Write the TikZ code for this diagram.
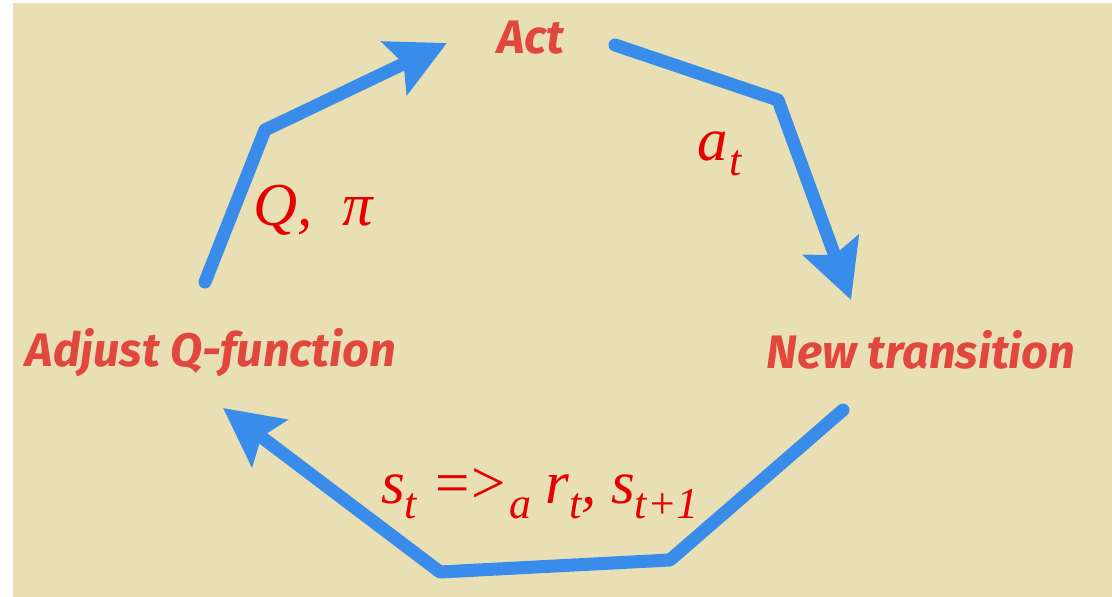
\documentclass[tikz,border=0pt]{standalone}
\usepackage{fontspec}
\usetikzlibrary{arrows.meta}
\newfontfamily\stagefont{Fira Sans}
\newfontfamily\symbfont{Liberation Serif}
\definecolor{paper}{HTML}{E8E0B4}
\definecolor{loopblue}{HTML}{3A8CEB}
\definecolor{stagered}{HTML}{E2473F}
\definecolor{symbred}{HTML}{E60000}
\newcommand{\lo}[1]{\raisebox{-0.55ex}{\fontsize{44}{44}\selectfont #1}}
\begin{document}
\begin{tikzpicture}[x=1pt,y=-1pt,line join=round,line cap=round,
	loop/.style={draw=loopblue,line width=13pt,-{Stealth[length=58pt,width=58pt,inset=10pt]}},
	stage/.style={text=stagered,font=\stagefont\bfseries\itshape\fontsize{47}{47}\selectfont,inner sep=0pt,anchor=base},
	symb/.style={text=symbred,font=\symbfont\itshape\fontsize{61}{61}\selectfont,inner sep=0pt,anchor=base west}]
	\useasboundingbox (0,0) rectangle (1112,597);
	\fill[white] (0,0) rectangle (1112,597);
	\fill[paper] (13,3) rectangle (1112,597);
	\path
	(205,282) coordinate (A0)--(265,130) coordinate (A1)--(447,43) coordinate (A2)
	(615,45) coordinate (B0)--(778,100) coordinate (B1)--(851,300) coordinate (B2)
	(843,410) coordinate (C0)--(670,560) coordinate (C1)--(440,572) coordinate (C2)--(223,408) coordinate (C3);
	% the three steps
	\node[stage] (act) at (531,53) {Act};
	\node[stage] (newtr) at (921,368) {New transition};
	\node[stage] (adjust) at (211,366) {Adjust Q-function};
	% what is passed on
	\node[symb] (qpi) at (253,225) {Q,\ \ π};
	\node[symb] (act-a) at (697,160) {a\lo{\hspace{2pt}t}};
	\node[symb] (trans) at (381,503) {s\lo{t}\hspace{18pt}{\upshape =\hspace{2pt}>}\lo{\hspace{4pt}a}\hspace{14pt}r\lo{t},\hspace{14pt}s\lo{t+1}};
	\draw[loop] (A0)--(A1)--(A2);
	\draw[loop] (B0)--(B1)--(B2);
	\draw[loop] (C0)--(C1)--(C2)--(C3);
\end{tikzpicture}
\end{document}
